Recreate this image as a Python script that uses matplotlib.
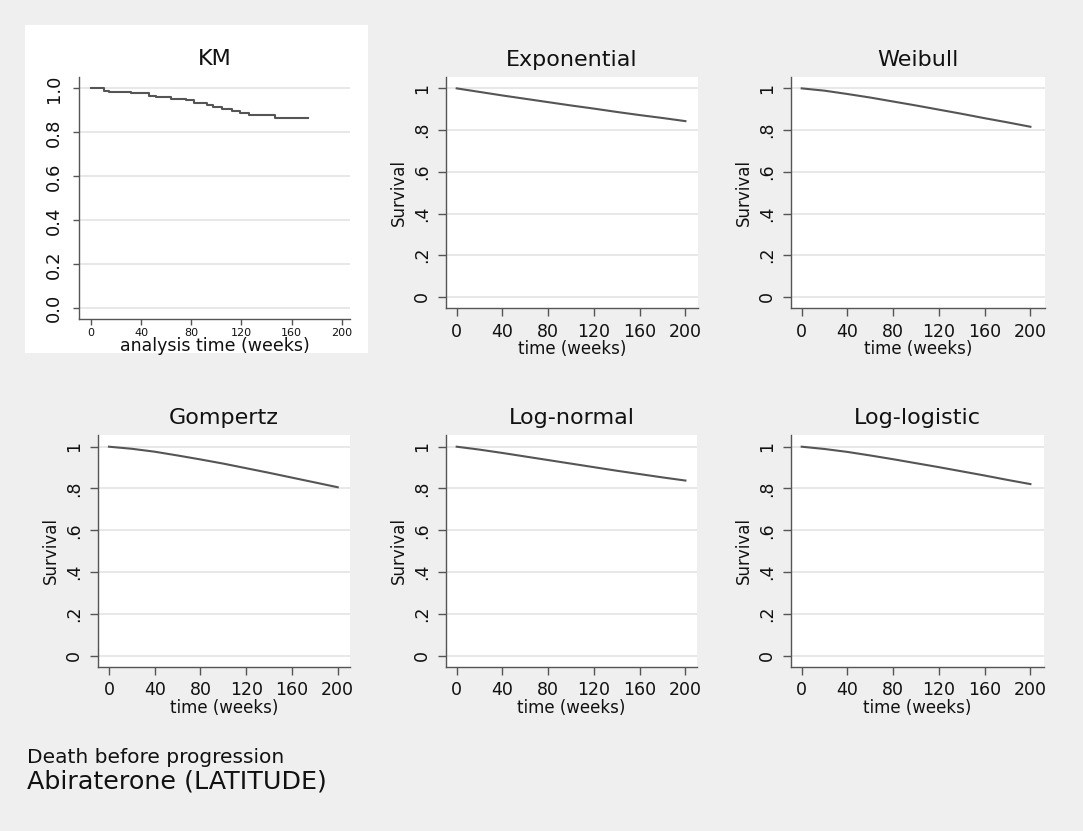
import matplotlib
matplotlib.use("Agg")
import matplotlib.pyplot as plt
from matplotlib.patches import Rectangle

# ---------------- data ----------------
km_time = [0, 10.6, 14.5, 31.8, 46, 51.7, 63.6, 75.5, 82, 93, 97, 104.6, 112.6, 119, 126, 147, 173.5]
km_surv = [1.0, 0.989, 0.985, 0.977, 0.966, 0.959, 0.951, 0.946, 0.935, 0.923, 0.915, 0.908,
           0.899, 0.890, 0.877, 0.866, 0.866]

fit_time = [0, 20, 40, 60, 80, 100, 120, 140, 160, 180, 200]
surv_exponential = [1.000, 0.983, 0.966, 0.950, 0.934, 0.918, 0.903, 0.887, 0.872, 0.858, 0.843]
surv_weibull = [1.000, 0.989, 0.973, 0.956, 0.937, 0.918, 0.898, 0.878, 0.857, 0.837, 0.816]
surv_gompertz = [1.000, 0.990, 0.976, 0.958, 0.939, 0.919, 0.897, 0.875, 0.852, 0.829, 0.806]
surv_lognormal = [1.000, 0.986, 0.970, 0.953, 0.936, 0.919, 0.902, 0.885, 0.869, 0.853, 0.838]
surv_loglogistic = [1.000, 0.989, 0.975, 0.958, 0.940, 0.921, 0.902, 0.882, 0.862, 0.841, 0.821]

panel_titles = ["KM", "Exponential", "Weibull", "Gompertz", "Log-normal", "Log-logistic"]
x_ticks = [0, 40, 80, 120, 160, 200]
km_y_ticks = [0.0, 0.2, 0.4, 0.6, 0.8, 1.0]
km_y_labels = ["0.0", "0.2", "0.4", "0.6", "0.8", "1.0"]
fit_y_ticks = [0, 0.2, 0.4, 0.6, 0.8, 1.0]
fit_y_labels = ["0", ".2", ".4", ".6", ".8", "1"]
footer_line1 = "Death before progression"
footer_line2 = "Abiraterone (LATITUDE)"

# ---------------- styling ----------------
W, H = 1083, 831
BG = "#efefef"
LINE = "#555555"
AXC = "#555555"
GRID = "#e6e6e6"
TXT = "#111111"
plt.rcParams["font.family"] = ["DejaVu Sans"]

fig = plt.figure(figsize=(W / 100, H / 100), dpi=100, facecolor=BG)


def fx(x):
    return x / W


def fy(y):
    return 1 - y / H


def add_ax(l, t, r, b):
    return fig.add_axes([l / W, 1 - b / H, (r - l) / W, (b - t) / H])


# white background box behind KM panel
fig.patches.append(Rectangle((fx(25), fy(353)), fx(368) - fx(25), fy(25) - fy(353),
                             transform=fig.transFigure, facecolor="white", edgecolor="none",
                             zorder=-5))


def style(ax, yticks, ylabels, xfs, yfs, tick_len, xpad):
    ax.set_facecolor("white")
    for s in ["top", "right"]:
        ax.spines[s].set_visible(False)
    for s in ["left", "bottom"]:
        ax.spines[s].set_color(AXC)
        ax.spines[s].set_linewidth(1.0)
    ax.set_xticks(x_ticks)
    ax.set_xticklabels([str(t) for t in x_ticks], fontsize=xfs, color=TXT)
    ax.set_yticks(yticks)
    ax.set_yticklabels(ylabels, fontsize=yfs, color=TXT, rotation=90, va="center")
    ax.tick_params(axis="both", direction="out", length=tick_len, width=1.0, color=AXC)
    ax.tick_params(axis="x", pad=xpad)
    ax.tick_params(axis="y", pad=5)
    for yt in yticks:
        ax.axhline(yt, color=GRID, lw=1.3, zorder=0.5)


# ---- KM panel ----
ax = add_ax(79.3, 76.7, 350, 319.3)
ax.set_zorder(2)
style(ax, km_y_ticks, km_y_labels, 8, 13, 4.5, 2)
ax.set_xlim(-9.2, 206.6)
ax.set_ylim(-0.05, 1.053)
ax.step(km_time, km_surv, where="post", color=LINE, lw=1.5, zorder=3)
ax.tick_params(axis="y", pad=7)
fig.text(fx(214.5), fy(65), panel_titles[0], ha="center", va="baseline", fontsize=16, color=TXT)
fig.text(fx(214.5), fy(346), "analysis time (weeks)", ha="center", va="center", fontsize=12.5, color=TXT)

# ---- parametric panels ----
fits = [surv_exponential, surv_weibull, surv_gompertz, surv_lognormal, surv_loglogistic]
boxes = [
    (446, 76.7, 698, 308.0),
    (791, 76.7, 1045, 308.0),
    (98.3, 435, 350, 666.7),
    (446, 435, 697, 666.7),
    (791, 435, 1044, 666.7),
]
for i, (vals, (l, t, r, b)) in enumerate(zip(fits, boxes)):
    ax = add_ax(l, t, r, b)
    ax.set_zorder(2)
    style(ax, fit_y_ticks, fit_y_labels, 12.5, 12.5, 6, 4.5)
    x0 = l + 10.7
    scale = 1.1435
    ax.set_xlim((l - x0) / scale, (r - x0) / scale)
    ax.set_ylim(-0.053, 1.056)
    ax.plot(fit_time, vals, color=LINE, lw=1.5, zorder=3)
    cx = (l + r) / 2
    fig.text(fx(cx), fy(t - 11), panel_titles[i + 1], ha="center", va="baseline", fontsize=16, color=TXT)
    fig.text(fx(cx), fy(b + 41), "time (weeks)", ha="center", va="center", fontsize=12, color=TXT)
    fig.text(fx(l - 47), fy((t + b) / 2), "Survival", ha="center", va="center", rotation=90,
             fontsize=12, color=TXT)

fig.text(fx(27), fy(763), footer_line1, ha="left", va="baseline", fontsize=14.5, color=TXT)
fig.text(fx(27), fy(788), footer_line2, ha="left", va="baseline", fontsize=18.3, color=TXT)

fig.savefig("out.png", dpi=100, facecolor=BG)
